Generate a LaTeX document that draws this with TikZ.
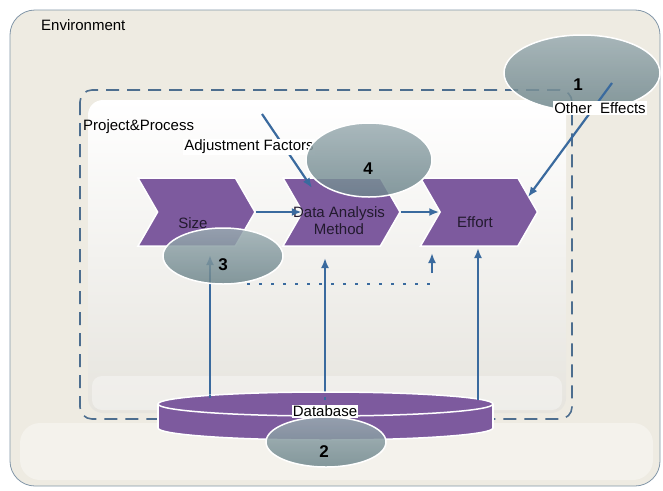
\documentclass[tikz,border=0pt]{standalone}
\usepackage{fontspec}
\setmainfont{Liberation Sans}
\usetikzlibrary{shapes.symbols,shapes.geometric,arrows.meta}
\definecolor{envfill}{HTML}{EEEBE2}
\definecolor{envband}{HTML}{F4F2EC}
\definecolor{envline}{HTML}{8296A8}
\definecolor{panelbot}{HTML}{E6E4DE}
\definecolor{chev}{HTML}{7D5A9E}
\definecolor{flow}{HTML}{3A6A9E}
\definecolor{dashc}{HTML}{4D6E8F}
\definecolor{ovltop}{HTML}{9AACB1}
\definecolor{ovlbot}{HTML}{6E868C}
\definecolor{chevtext}{HTML}{221A2E}
\begin{document}
\begin{tikzpicture}[x=1pt,y=-1pt,
  txt/.style={font=\fontsize{15}{17}\selectfont, inner sep=1pt},
  chevlabel/.style={txt, text=chevtext, align=center},
  chevron/.style={signal, signal from=west, signal to=east, signal pointer angle=120,
    minimum width=117pt, minimum height=68pt, inner sep=0pt,
    fill=chev, draw=white, line width=1.5pt},
  callout/.style={ellipse, draw=white, line width=1.5pt, top color=ovltop,
    bottom color=ovlbot, fill opacity=0.84, inner sep=0pt},
  flowarrow/.style={draw=flow, line width=2.2pt, -{Latex[length=10pt,width=8pt]}},
  whitelabel/.style={txt, fill=white},
  num/.style={font=\fontsize{17}{19}\selectfont\bfseries, inner sep=0pt}
]
\useasboundingbox (0,0) rectangle (663,490);

% environment frame
\draw[envline, line width=0.8pt, fill=envfill, rounded corners=25pt] (10,10) rectangle (660,486);
\fill[envband, rounded corners=20pt] (20,423) rectangle (653,480);
\node[txt, anchor=west] (env) at (40,25) {Environment};

% project & process panel
\shade[top color=white, bottom color=panelbot, rounded corners=15pt] (88,100) rectangle (566,413);
\fill[white, opacity=0.35, rounded corners=10pt] (92,376) rectangle (562,410);
\draw[dashc, line width=1.6pt, dash pattern=on 13pt off 8pt, rounded corners=12pt] (80,90) rectangle (572,419);
\node[txt, anchor=west] (proj) at (82,127) {Project\&Process};

% process chain
\node[chevron] (size) at (196.5,212) {};
\node[chevron] (dam) at (341.5,212) {};
\node[chevron] (effort) at (479,212) {};
\node[chevlabel] (sizet) at (193,223) {Size};
\node[chevlabel] (damt) at (339,221) {Data Analysis\\Method};
\node[chevlabel] (effortt) at (475,222) {Effort};

\draw[flowarrow] (size.east) -- (dam.west);
\draw[flowarrow] (dam.east) -- (effort.west);

% adjustment factors
\coordinate (adjStart) at (262,114);
\coordinate (adjEnd) at (312,188);
\draw[flowarrow] (adjStart) -- (adjEnd);
\node[whitelabel] (adj) at (249,147) {Adjustment Factors};

% database feeds
\coordinate (dbA) at (210,398);
\coordinate (dbB) at (325,400);
\coordinate (dbC) at (478,400);
\coordinate (sizeIn) at (210,255);
\coordinate (damIn) at (325,258);
\coordinate (effortIn) at (478,248);
\draw[flowarrow] (dbA) -- (sizeIn);
\draw[flowarrow] (dbB) -- (damIn);
\draw[flowarrow] (dbC) -- (effortIn);

\coordinate (dotA) at (247,284);
\coordinate (dotB) at (432,284);
\coordinate (dotUp) at (432,273);
\coordinate (dotEnd) at (432,253);
\draw[flow, line width=2.4pt, dash pattern=on 3pt off 9pt] (dotA) -- (dotB);
\draw[flowarrow] (dotUp) -- (dotEnd);

% database cylinder
\node[ellipse, minimum width=335pt, minimum height=24pt, fill=chev, draw=white, line width=1.5pt] (dbbot) at (325.5,428) {};
\fill[chev] (158,404) rectangle (493,428);
\draw[white, line width=1.5pt] (158,404) -- (158,428) (493,404) -- (493,428);
\node[ellipse, minimum width=335pt, minimum height=24pt, fill=chev, draw=white, line width=1.5pt] (dbtop) at (325.5,404) {};
\draw[flow, line width=2.2pt] (dbA) -- ++(0,-3) (dbB) -- ++(0,-3) (dbC) -- ++(0,-3);
\node[whitelabel] (dbl) at (325,411) {Database};

% numbered callouts
\node[callout, minimum width=120pt, minimum height=56pt] (c3) at (223,256) {};
\node[num] (n3) at (223,265) {3};
\node[callout, minimum width=126pt, minimum height=74pt] (c4) at (369,160) {};
\node[num] (n4) at (368,169) {4};
\node[callout, minimum width=120pt, minimum height=50pt] (c2) at (326,442) {};
\node[num] (n2) at (324,452) {2};
\node[callout, minimum width=156pt, minimum height=76pt] (c1) at (582,73) {};
\node[num] (n1) at (578,85) {1};

% other effects
\coordinate (oeStart) at (612,83);
\coordinate (oeEnd) at (528,197);
\draw[flowarrow] (oeStart) -- (oeEnd);
\node[whitelabel] (oe) at (600,108) {Other\ \ Effects};
\end{tikzpicture}
\end{document}
